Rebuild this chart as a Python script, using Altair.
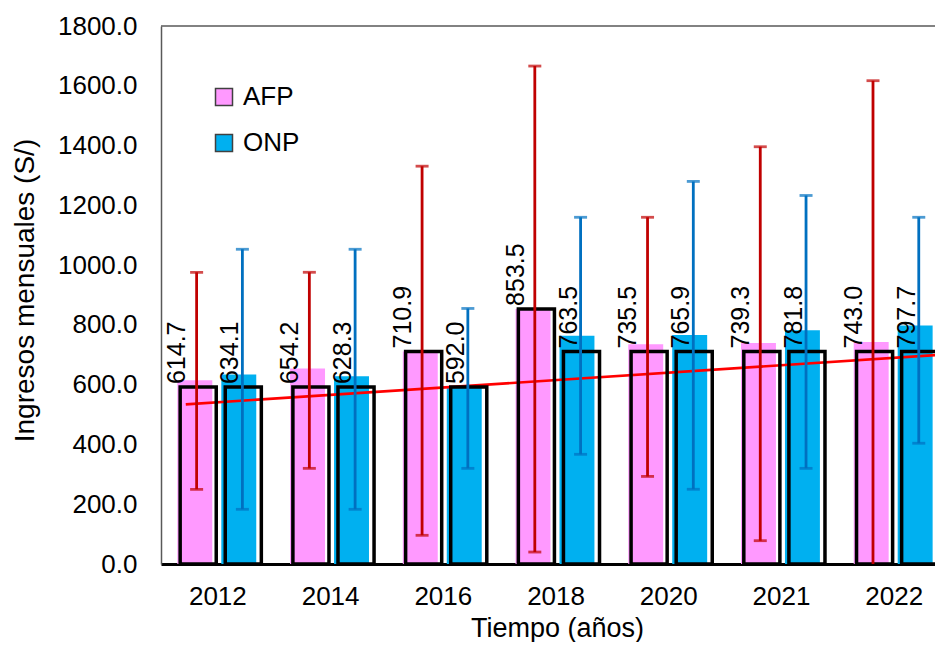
import json
import altair as alt
import pandas as pd

# ---- data ----
years = ["2012", "2014", "2016", "2018", "2020", "2021", "2022"]
afp = [614.7, 654.2, 710.9, 853.5, 735.5, 739.3, 743.0]
onp = [634.1, 628.3, 592.0, 763.5, 765.9, 781.8, 797.7]
afp_ref = [592.0, 592.0, 710.9, 853.5, 710.9, 710.9, 710.9]
onp_ref = [592.0, 592.0, 592.0, 710.9, 710.9, 710.9, 710.9]
afp_lo = [250, 320, 96, 40, 293, 78, -131]
afp_hi = [976, 976, 1331, 1666, 1160, 1396, 1617]
onp_lo = [183, 183, 320, 367, 250, 320, 404]
onp_hi = [1053, 1053, 855, 1160, 1280, 1233, 1160]
trend_pos = [-0.28, 6.375]
trend_val = [534, 699]

rows = []
for i, yr in enumerate(years):
    rows.append(dict(idx=i, anio=yr, serie="AFP", valor=afp[i], ref=afp_ref[i],
                     lo=afp_lo[i], hi=afp_hi[i]))
    rows.append(dict(idx=i, anio=yr, serie="ONP", valor=onp[i], ref=onp_ref[i],
                     lo=onp_lo[i], hi=onp_hi[i]))
df = pd.DataFrame(rows)
trend = pd.DataFrame({"tx": trend_pos, "ty": trend_val})

W, H = 774, 538
FONT = "Liberation Sans"

xs = alt.Scale(domain=[-0.5, 6.366], nice=False, zero=False)
ys = alt.Scale(domain=[0, 1800], nice=False, zero=False)

label_expr = json.dumps(years) + "[datum.value]"
xaxis = alt.Axis(values=list(range(len(years))), labelExpr=label_expr, grid=False,
                 ticks=False, tickSize=0, labelPadding=19, labelFontSize=26,
                 labelFont=FONT, labelColor="black", domainColor="black", domainWidth=3,
                 titleFontSize=27, titleFont=FONT, titleFontWeight="normal",
                 titleColor="black", titleX=396, titleY=72, titleBaseline="alphabetic",
                 titleAlign="center")
yaxis = alt.Axis(values=list(range(0, 1801, 200)), format=".1f", grid=False,
                 ticks=False, tickSize=0, labelPadding=24, labelFontSize=26,
                 labelFont=FONT, labelColor="black", domainColor="#595959",
                 domainWidth=1.5, titleFontSize=28, titleFont=FONT,
                 titleFontWeight="normal", titleColor="black", titleX=-136, titleY=264,
                 titleBaseline="middle", titleAlign="center", titleAngle=270)

color_cond = alt.condition("datum.serie == 'AFP'", alt.value("#C00000"), alt.value("#0070C0"))

base = alt.Chart(df).transform_calculate(
    bc="datum.idx + (datum.serie == 'AFP' ? -0.20 : 0.19)",
    rc="datum.idx + (datum.serie == 'AFP' ? -0.17 : 0.23)",
    ex="datum.idx + (datum.serie == 'AFP' ? -0.184 : 0.222)",
    lx="datum.idx + (datum.serie == 'AFP' ? -0.355 : 0.115)",
    cero="0",
).transform_calculate(
    b0="datum.bc - 0.155", b1="datum.bc + 0.155",
    r0="datum.rc - 0.16", r1="datum.rc + 0.16",
)

bars = base.mark_rect().encode(
    x=alt.X("b0:Q", scale=xs, axis=xaxis, title="Tiempo (años)"),
    x2="b1:Q",
    y=alt.Y("valor:Q", scale=ys, axis=yaxis, title="Ingresos mensuales (S/)"),
    y2="cero:Q",
    fill=alt.Fill("serie:N",
                  scale=alt.Scale(domain=["AFP", "ONP"], range=["#FF99FF", "#00B0F0"]),
                  legend=alt.Legend(title=None, orient="none", legendX=50, legendY=58,
                                    symbolType="square", symbolSize=289,
                                    symbolStrokeColor="#404040", symbolStrokeWidth=1.5,
                                    labelFontSize=26, labelFont=FONT, labelColor="black",
                                    rowPadding=20, labelOffset=6)),
)

trend_line = alt.Chart(trend).mark_line(color="#FF0000", strokeWidth=2.6).encode(
    x=alt.X("tx:Q", scale=xs), y=alt.Y("ty:Q", scale=ys))

outlines = base.mark_rect(fillOpacity=0, stroke="black", strokeWidth=3.5).encode(
    x=alt.X("r0:Q", scale=xs), x2="r1:Q",
    y=alt.Y("ref:Q", scale=ys), y2="cero:Q")

err = base.mark_rule(strokeWidth=2.8, clip=True).encode(
    x=alt.X("ex:Q", scale=xs), y=alt.Y("lo:Q", scale=ys), y2="hi:Q", color=color_cond)

cap_hi = base.mark_tick(orient="horizontal", size=13, thickness=2.8, clip=True).encode(
    x=alt.X("ex:Q", scale=xs), y=alt.Y("hi:Q", scale=ys), color=color_cond)
cap_lo = base.mark_tick(orient="horizontal", size=13, thickness=2.8, clip=True).encode(
    x=alt.X("ex:Q", scale=xs), y=alt.Y("lo:Q", scale=ys), color=color_cond)

labels = base.mark_text(angle=270, align="left", baseline="middle", dx=3, fontSize=25,
                        font=FONT, color="black").encode(
    x=alt.X("lx:Q", scale=xs), y=alt.Y("ref:Q", scale=ys),
    text=alt.Text("valor:Q", format=".1f"))

top_border = alt.Chart(pd.DataFrame({"a": [0]})).mark_rule(
    color="#595959", strokeWidth=1.5).encode(
    x=alt.value(0), x2=alt.value(W), y=alt.value(0))

chart = alt.layer(bars, trend_line, outlines, err, cap_hi, cap_lo, labels, top_border).properties(
    width=W, height=H,
    autosize=alt.AutoSizeParams(type="none"),
    padding={"left": 153, "top": 18, "right": 0, "bottom": 78},
).configure_view(stroke=None)

chart.save("out.html", embed_options={"renderer": "svg", "actions": False})
